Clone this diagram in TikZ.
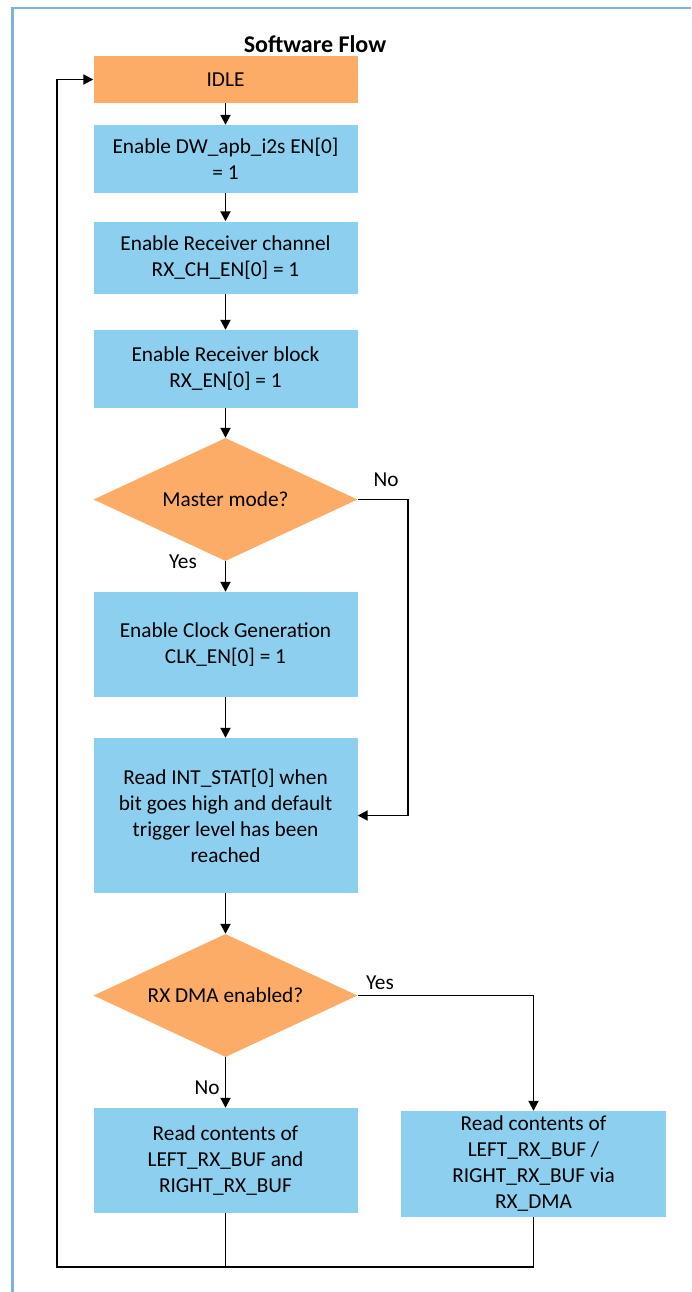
\documentclass[tikz,border=0pt]{standalone}
\usepackage{fontspec}
\setmainfont{Carlito}
\usetikzlibrary{shapes.geometric,arrows.meta}
\definecolor{boxblue}{RGB}{141,207,238}
\definecolor{boxorange}{RGB}{252,172,102}
\definecolor{frameblue}{RGB}{124,180,222}
\begin{document}
\begin{tikzpicture}[x=1pt,y=-1pt,
  txt/.style={font=\fontsize{21.3}{26}\selectfont, align=center, inner sep=0pt},
  proc/.style={txt, fill=boxblue, minimum width=264pt},
  startbox/.style={txt, fill=boxorange, minimum width=264pt},
  decision/.style={txt, shape=diamond, aspect=2.15, fill=boxorange, minimum width=264pt, minimum height=123pt},
  lbl/.style={font=\fontsize{21.3}{24}\selectfont, inner sep=0pt},
  link/.style={line width=1.9pt, line join=miter},
  arr/.style={link, -{Triangle[length=10pt,width=10pt]}}]
  \useasboundingbox (0,0) rectangle (691,1292);
  % open frame along the top and left edges
  \draw[frameblue, line width=2.5pt] (12.5,1292) -- (12.5,8) -- (691,8);

  \node[font=\bfseries\fontsize{24}{28}\selectfont] (title) at (315,44) {Software Flow};

  % steps of the receive flow
  \node[startbox, minimum height=47pt] (idle) at (225.5,79.5) {IDLE};
  \node[proc, minimum height=68pt] (en) at (225.5,159) {Enable DW\_apb\_i2s EN[0]\\= 1};
  \node[proc, minimum height=72pt] (rxch) at (225.5,257.5) {Enable Receiver channel\\RX\_CH\_EN[0] = 1};
  \node[proc, minimum height=78pt] (rxen) at (225.5,369) {Enable Receiver block\\RX\_EN[0] = 1};
  \node[decision] (master) at (225.5,499.5) {Master mode?};
  \node[proc, minimum height=105pt] (clk) at (225.5,644.5) {Enable Clock Generation\\CLK\_EN[0] = 1};
  \node[proc, minimum height=155pt] (stat) at (225.5,815.5) {Read INT\_STAT[0] when\\bit goes high and default\\trigger level has been\\reached};
  \node[decision] (dma) at (225.5,995.5) {RX DMA enabled?};
  \node[proc, minimum height=105pt] (readcpu) at (225.5,1160.5) {Read contents of\\LEFT\_RX\_BUF and\\RIGHT\_RX\_BUF};
  \node[proc, minimum width=265pt, minimum height=106pt] (readdma) at (533.5,1164) {Read contents of\\LEFT\_RX\_BUF /\\RIGHT\_RX\_BUF via\\RX\_DMA};

  % branch labels
  \node[lbl] (noA) at (386,480) {No};
  \node[lbl] (yesA) at (183,562) {Yes};
  \node[lbl] (yesB) at (380,983) {Yes};
  \node[lbl] (noB) at (207,1088) {No};

  % connectors
  \draw[arr] (idle) -- (en);
  \draw[arr] (en) -- (rxch);
  \draw[arr] (rxch) -- (rxen);
  \draw[arr] (rxen) -- (master);
  \draw[arr] (master) -- (clk);
  \draw[arr] (clk) -- (stat);
  \draw[arr] (master.east) -- ++(50.5,0) |- (stat.east);
  \draw[arr] (stat) -- (dma);
  \draw[arr] (dma) -- (readcpu);
  \draw[arr] (dma.east) -| (readdma.north);

  % return path back to IDLE
  \coordinate (loopL) at (57,1267);
  \draw[link] (readcpu.south) -- (readcpu.south |- loopL);
  \draw[arr] (readdma.south) |- (loopL) |- (idle.west);
\end{tikzpicture}
\end{document}
